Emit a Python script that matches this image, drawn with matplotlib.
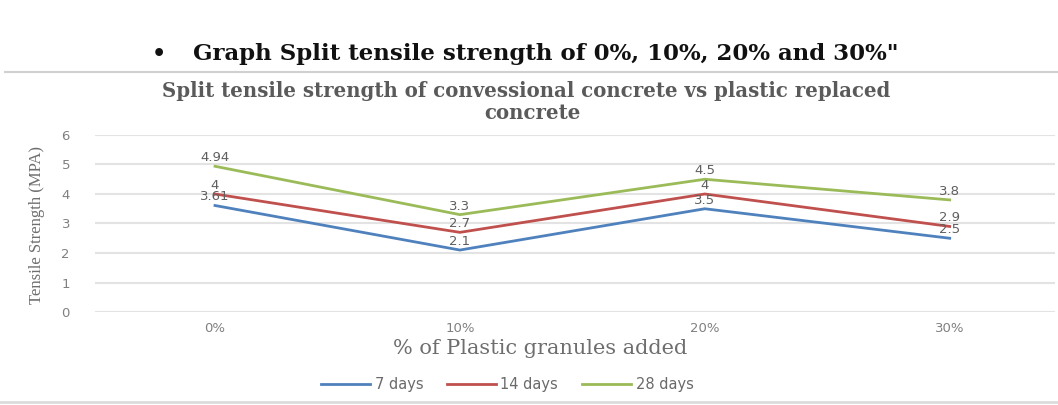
import matplotlib.pyplot as plt
from matplotlib.lines import Line2D

# split tensile strength (MPa) per plastic replacement level
categories = ["0%", "10%", "20%", "30%"]
days_7 = [3.61, 2.1, 3.5, 2.5]
days_14 = [4, 2.7, 4, 2.9]
days_28 = [4.94, 3.3, 4.5, 3.8]
series_names = ["7 days", "14 days", "28 days"]
yticks = [0, 1, 2, 3, 4, 5, 6]

colours = ["#4f81bd", "#c0504d", "#9bbb59"]
grey_text = "#6e6e6e"

W, H = 1058, 405
fig = plt.figure(figsize=(W / 100, H / 100), dpi=100)

def fx(px):
    return px / W

def fy(py):
    return 1 - py / H

# heading above the chart
fig.text(fx(152), fy(54), "\u2022", fontsize=16, fontweight="bold",
         family="DejaVu Serif", ha="left", va="center", color="#111111")
fig.text(fx(193), fy(54), "Graph Split tensile strength of 0%, 10%, 20% and 30%\"",
         fontsize=16.5, fontweight="bold", family="DejaVu Serif",
         ha="left", va="center", color="#111111")
fig.add_artist(Line2D([fx(5), 1], [fy(72), fy(72)], color="#d0d0d0", lw=1.5))
fig.add_artist(Line2D([0, 1], [fy(402), fy(402)], color="#dcdcdc", lw=2))

# chart title, two lines
title_kw = dict(fontsize=14.2, fontweight="bold", family="DejaVu Serif",
                ha="center", va="center", color="#5a5a5a")
fig.text(fx(526), fy(91), "Split tensile strength of convessional concrete vs plastic replaced",
         **title_kw)
fig.text(fx(532), fy(113), "concrete", **title_kw)

ax = fig.add_axes([fx(95), fy(312), fx(1055) - fx(95), fy(135) - fy(312)])
x = range(len(categories))
for vals, name, col in zip([days_7, days_14, days_28], series_names, colours):
    ax.plot(x, vals, color=col, lw=2, label=name, solid_joinstyle="miter")
    for xi, v in zip(x, vals):
        ax.annotate(f"{v:g}", (xi, v), xytext=(0, 1.5), textcoords="offset points",
                    ha="center", va="bottom", fontsize=9.5, color="#5f5f5f")

ax.set_xlim(-0.49, 3.43)
ax.set_ylim(0, 6)
ax.set_yticks(yticks)
ax.set_xticks(list(x))
ax.set_xticklabels(categories)
ax.grid(axis="y", color="#e3e3e3", lw=1.5)
ax.set_axisbelow(True)
for s in ax.spines.values():
    s.set_visible(False)
ax.tick_params(length=0, colors="#808080", labelsize=9.5)
ax.tick_params(axis="y", pad=18)
ax.tick_params(axis="x", pad=7)

fig.text(fx(540), fy(348), "% of Plastic granules added", family="DejaVu Serif",
         fontsize=15, color=grey_text, ha="center", va="center")
fig.text(fx(37), fy(225), "Tensile Strength (MPA)", rotation=90,
         family="Liberation Serif", fontsize=12, color=grey_text,
         ha="center", va="center")

fig.legend(loc="center", bbox_to_anchor=(fx(507), fy(385)), ncol=3,
           frameon=False, fontsize=10.5, labelcolor="#6a6a6a",
           handlelength=3.4, handletextpad=0.3, columnspacing=1.6)

fig.savefig("out.png", dpi=100)
